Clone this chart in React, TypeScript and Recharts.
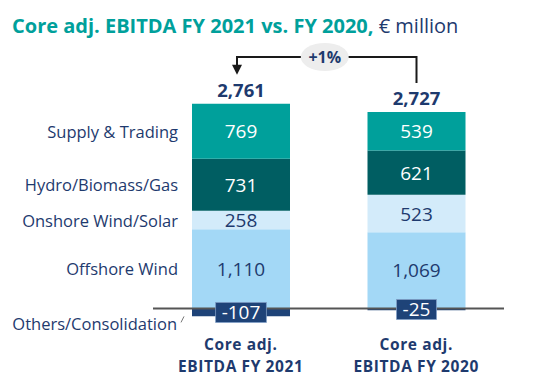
import { BarChart, Bar, XAxis, YAxis, ReferenceLine, LabelList } from "recharts";

const PERIODS = ["FY 2021", "FY 2020"];
const OFFSHORE = [1110, 1069];
const ONSHORE = [258, 523];
const HYDRO = [731, 621];
const SUPPLY = [769, 539];
const OTHERS = [-107, -25];
const TOTALS = ["2,761", "2,727"];
const CHANGE = "+1%";

const SEGMENTS = [
  { key: "offshore", name: "Offshore Wind", values: OFFSHORE, fill: "#A3D8F6", text: "#1E3A6E" },
  { key: "onshore", name: "Onshore Wind/Solar", values: ONSHORE, fill: "#D3EBFA", text: "#1E3A6E" },
  { key: "hydro", name: "Hydro/Biomass/Gas", values: HYDRO, fill: "#005E62", text: "#FFFFFF" },
  { key: "supply", name: "Supply & Trading", values: SUPPLY, fill: "#00A09B", text: "#FFFFFF" },
];

const data = PERIODS.map((p, i) => ({
  name: p,
  offshore: OFFSHORE[i],
  onshore: ONSHORE[i],
  hydro: HYDRO[i],
  supply: SUPPLY[i],
  others: OTHERS[i],
}));

const NAVY = "#1E3A6E";
const FONT = "'Open Sans', sans-serif";

const box = (p: any) => {
  const vb = p.viewBox || {};
  const x = p.x ?? vb.x;
  const y = p.y ?? vb.y;
  const w = p.width ?? vb.width;
  const h = p.height ?? vb.height;
  return { x, y, w, h };
};

const segmentLabel = (name: string, color: string) => (props: any) => {
  const { x, y, w, h } = box(props);
  const cy = y + h / 2;
  return (
    <g>
      <text x={x + w / 2} y={cy} textAnchor="middle" dominantBaseline="central"
        fill={color} fontSize={19} fontFamily={FONT}>
        {Number(props.value).toLocaleString("en-US")}
      </text>
      {props.index === 0 && (
        <text x={x - 14} y={cy} textAnchor="end" dominantBaseline="central"
          fill={NAVY} fontSize={16.5} fontFamily={FONT}>
          {name}
        </text>
      )}
    </g>
  );
};

const tops: { cx: number; y: number }[] = [];

const totalLabel = (props: any) => {
  const { x, y, w } = box(props);
  const cx = x + w / 2;
  tops[props.index] = { cx, y };
  let bracket = null;
  if (props.index === PERIODS.length - 1 && tops[0]) {
    const l = tops[0];
    const hy = 57;
    const mid = (l.cx + cx) / 2 - 4;
    bracket = (
      <g>
        <polyline points={`${cx},${y - 29} ${cx},${hy} ${l.cx - 4},${hy} ${l.cx - 4},${l.y - 38}`}
          fill="none" stroke="#1a1a1a" strokeWidth={2} />
        <polygon points={`${l.cx - 9},${l.y - 39} ${l.cx + 1},${l.y - 39} ${l.cx - 4},${l.y - 29}`} fill="#1a1a1a" />
        <ellipse cx={mid} cy={hy} rx={24} ry={14} fill="#EDEDED" />
        <text x={mid} y={hy} textAnchor="middle" dominantBaseline="central"
          fill={NAVY} fontSize={16} fontWeight={700} fontFamily={FONT}>{CHANGE}</text>
      </g>
    );
  }
  return (
    <g>
      <text x={cx} y={y - 7} textAnchor="middle" fill={NAVY} fontSize={18.5}
        fontWeight={700} fontFamily={FONT}>{TOTALS[props.index]}</text>
      {bracket}
    </g>
  );
};

const othersLabel = (props: any) => {
  const { x, y, w, h } = box(props);
  const cx = x + w / 2;
  const cy = y + h / 2;
  const txt = String(props.value);
  const bw = (txt.length - 1) * 10.9 + 6 + 12;
  return (
    <g>
      <rect x={cx - bw / 2} y={cy - 10} width={bw} height={20} fill="#1E4378" stroke="#7E9CC4" strokeWidth={0.8} />
      <text x={cx} y={cy} textAnchor="middle" dominantBaseline="central"
        fill="#FFFFFF" fontSize={19} fontFamily={FONT}>{txt}</text>
      {props.index === 0 && (
        <g>
          <text x={x - 15} y={cy + 11} textAnchor="end" dominantBaseline="central"
            fill={NAVY} fontSize={16.5} fontFamily={FONT}>Others/Consolidation</text>
          <line x1={x - 11} y1={cy + 10} x2={x - 8} y2={cy + 4} stroke="#777" strokeWidth={1} />
        </g>
      )}
    </g>
  );
};

const PeriodTick = ({ x, y, payload }: any) => (
  <g>
    <text x={x} y={y + 12} textAnchor="middle" fill={NAVY} fontSize={15.5} fontWeight={700}
      letterSpacing={0.6} fontFamily={FONT}>
      Core adj.
    </text>
    <text x={x} y={y + 33.5} textAnchor="middle" fill={NAVY} fontSize={15.5} fontWeight={700}
      letterSpacing={0.6} fontFamily={FONT}>
      {`EBITDA ${payload.value}`}
    </text>
  </g>
);

export default function App() {
  return (
    <div style={{ position: "absolute", left: 0, top: 0, width: 533, height: 378, background: "#fff" }}>
      <div style={{ position: "absolute", left: 12, top: 13, fontFamily: FONT, fontSize: 20, whiteSpace: "nowrap", lineHeight: "26px" }}>
        <span style={{ color: "#00A09B", fontWeight: 700 }}>Core adj. EBITDA FY 2021 vs. FY 2020,</span>
        <span style={{ color: NAVY }}> € million</span>
      </div>
      <BarChart width={533} height={378} data={data} stackOffset="sign" barSize={98}
        margin={{ top: 80, right: 29, bottom: 8, left: 153 }}>
        <XAxis dataKey="name" axisLine={false} tickLine={false} height={40} tick={<PeriodTick />} interval={0} />
        <YAxis hide domain={[-300, 3200]} />
        {SEGMENTS.map((s) => (
          <Bar key={s.key} dataKey={s.key} stackId="a" fill={s.fill} isAnimationActive={false}>
            <LabelList dataKey={s.key} content={segmentLabel(s.name, s.text)} />
            {s.key === "supply" && <LabelList dataKey="supply" content={totalLabel} />}
          </Bar>
        ))}
        <Bar dataKey="others" stackId="a" fill="#1E4378" isAnimationActive={false}>
          <LabelList dataKey="others" content={othersLabel} />
        </Bar>
        <ReferenceLine y={0} stroke="#555" strokeWidth={2} />
      </BarChart>
    </div>
  );
}
